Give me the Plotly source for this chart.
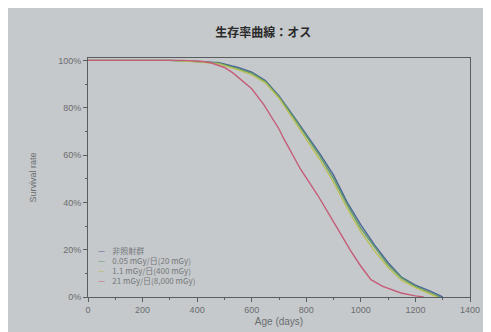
import plotly.graph_objects as go

title = "生存率曲線：オス"
series_names = ["非照射群", "0.05 mGy/日(20 mGy)", "1.1 mGy/日(400 mGy)", "21 mGy/日(8,000 mGy)"]

age_ctrl = [0, 300, 400, 480, 550, 600, 650, 700, 750, 800, 850, 900, 950, 1000, 1050, 1100, 1150, 1200, 1250, 1300]
surv_ctrl = [100, 100, 99.5, 99, 97, 95, 91.5, 85, 77, 69, 60.5, 51.5, 40, 30.5, 22, 14.5, 8.3, 5, 2.7, 0]

age_low = [0, 300, 400, 480, 550, 600, 650, 700, 750, 800, 850, 900, 950, 1000, 1050, 1100, 1150, 1200, 1250, 1290]
surv_low = [100, 100, 99.5, 98.8, 96.5, 94.5, 91, 84.5, 76.5, 68, 59.5, 50, 39, 29, 21, 13.5, 8, 4.5, 2, 0]

age_mid = [0, 300, 400, 480, 550, 600, 650, 700, 750, 800, 850, 900, 950, 1000, 1050, 1100, 1150, 1200, 1250, 1280]
surv_mid = [100, 100, 99.4, 98.5, 96, 94, 90.5, 84, 75.5, 67, 58, 48.5, 37.5, 27.5, 19.5, 12.5, 7, 4, 1.5, 0]

age_high = [0, 350, 420, 450, 500, 531, 600, 643, 700, 717, 779, 842, 901, 963, 1000, 1037, 1080, 1147, 1200, 1230]
surv_high = [100, 100, 99.5, 99, 97, 94.7, 88, 81.5, 71, 67, 54, 43, 31.5, 19.5, 13, 7.3, 4.5, 1.7, 0.5, 0]

colors = ["#4a6496", "#5f9a68", "#b9bf55", "#c45d78"]

x_ticks = [0, 200, 400, 600, 800, 1000, 1200, 1400]
y_ticks = [0, 20, 40, 60, 80, 100]
y_tick_labels = ["0%", "20%", "40%", "60%", "80%", "100%"]

fig = go.Figure()
for name, ages, surv, col in zip(series_names,
                                 [age_ctrl, age_low, age_mid, age_high],
                                 [surv_ctrl, surv_low, surv_mid, surv_high],
                                 colors):
    fig.add_trace(go.Scatter(x=ages, y=surv, mode="lines", name=name,
                             line=dict(color=col, width=1.4), showlegend=False))

# compact legend: one text line per series
for i, (c, n) in enumerate(zip(colors, series_names)):
    fig.add_annotation(
        text="<span style='color:%s'>—</span>    %s" % (c, n), xref="paper", yref="paper",
        x=0.02, y=0.225 - i * 0.041, xanchor="left", yanchor="top", showarrow=False,
        align="left", font=dict(family="Noto Sans CJK JP", size=8, color="#75787b"),
    )

bg = "#c6c9cb"
axis_col = "#5a5d60"
fig.update_layout(
    width=491, height=332,
    paper_bgcolor=bg, plot_bgcolor=bg,
    margin=dict(l=80, r=29, t=50, b=43),
    title=dict(text="<b>" + title + "</b>", x=0.52, xanchor="center", y=0.925, yanchor="middle",
               font=dict(family="Noto Sans CJK JP", size=12, color="#2a2a2a")),
    font=dict(family="Liberation Sans, Arial", color="#6a6d70"),
    showlegend=False,
)
fig.update_xaxes(range=[0, 1400], tickvals=x_ticks, ticks="outside", ticklen=4,
                 tickcolor=axis_col, showline=True, linecolor=axis_col, linewidth=1,
                 mirror=True, showgrid=False, zeroline=False,
                 minor=dict(dtick=100, ticks="outside", ticklen=2, tickcolor=axis_col),
                 tickfont=dict(size=9, color="#6a6d70"),
                 title=dict(text="Age (days)", font=dict(size=10, color="#6a6d70"), standoff=4))
fig.update_yaxes(range=[0, 101], tickvals=y_ticks, ticktext=y_tick_labels, ticks="outside",
                 ticklen=4, tickcolor=axis_col, showline=True, linecolor=axis_col, linewidth=1,
                 mirror=True, showgrid=False, zeroline=False,
                 minor=dict(dtick=10, ticks="outside", ticklen=2, tickcolor=axis_col),
                 tickfont=dict(size=9, color="#6a6d70"),
                 title=dict(text="Survival rate", font=dict(size=9, color="#6a6d70"), standoff=20))

fig.write_html("out.html")
